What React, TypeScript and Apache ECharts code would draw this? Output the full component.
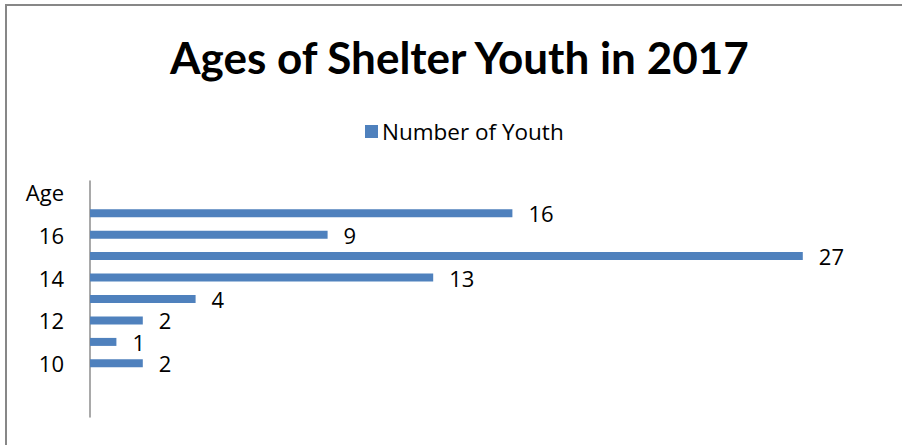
import React, { useEffect, useRef } from "react";
import * as echarts from "echarts";

const categories: string[] = ["", "", "10", "11", "12", "13", "14", "15", "16", "17", "Age"];
const youth: (number | null)[] = [null, null, 2, 1, 2, 4, 13, 27, 9, 16, null];
const seriesName = "Number of Youth";
const titleText = "Ages of Shelter Youth in 2017";

export default function App() {
  const ref = useRef<HTMLDivElement>(null);
  useEffect(() => {
    if (!ref.current) return;
    const chart = echarts.init(ref.current, null, { renderer: "svg" });
    chart.setOption({
      animation: false,
      backgroundColor: "#ffffff",
      title: {
        text: titleText,
        left: 165,
        top: 30,
        textStyle: { fontFamily: "Lato", fontWeight: "bold", fontSize: 44, color: "#000" },
      },
      legend: {
        data: [seriesName],
        left: 360,
        top: 115,
        icon: "rect",
        itemWidth: 13,
        itemHeight: 13,
        itemGap: 8,
        textStyle: { fontFamily: "Open Sans", fontSize: 22.5, color: "#000", padding: [0, 0, 0, -1] },
      },
      graphic: [
        {
          type: "rect",
          shape: { x: 6, y: 5, width: 1000, height: 1000 },
          style: { fill: "none", stroke: "#878787", lineWidth: 2 },
          silent: true,
        },
      ],
      grid: { left: 90, right: 20, top: 181, bottom: 28, containLabel: false },
      xAxis: {
        type: "value",
        min: 0,
        max: 30,
        show: false,
        splitLine: { show: false },
      },
      yAxis: {
        type: "category",
        data: categories,
        axisLine: { show: true, lineStyle: { color: "#8c8c8c", width: 1.5 } },
        axisTick: { show: false },
        axisLabel: {
          interval: 1,
          margin: 26,
          fontFamily: "Open Sans",
          fontSize: 22,
          color: "#000",
        },
      },
      series: [
        {
          name: seriesName,
          type: "bar",
          data: youth,
          barWidth: 8,
          itemStyle: { color: "#4F81BD" },
          label: {
            show: true,
            position: "right",
            distance: 16,
            fontFamily: "Open Sans",
            fontSize: 22,
            color: "#000",
          },
        },
      ],
    });
    return () => chart.dispose();
  }, []);
  return (
    <div
      ref={ref}
      style={{ position: "fixed", left: 0, top: 0, width: 902, height: 445 }}
    />
  );
}
